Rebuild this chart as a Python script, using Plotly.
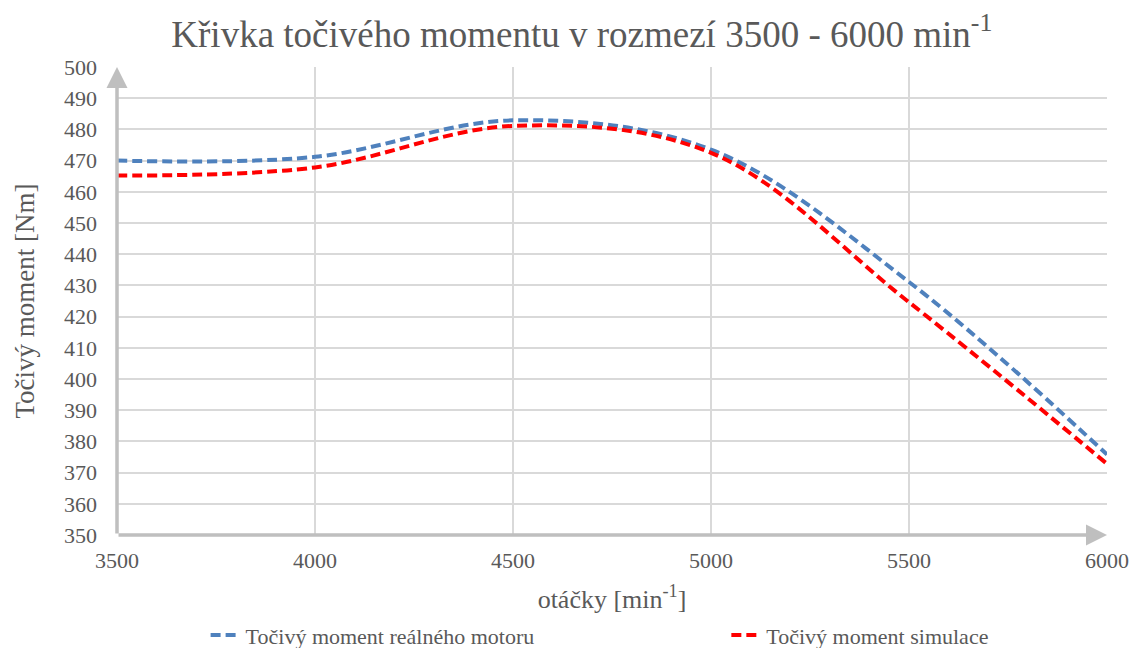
import plotly.graph_objects as go

rpm = [3500, 4000, 4500, 5000, 5500, 6000]
torque_real = [470.0, 471.2, 482.9, 473.5, 431.1, 375.8]
torque_sim = [465.2, 467.8, 481.1, 472.5, 424.6, 372.8]

name_real = "Točivý moment reálného motoru"
name_sim = "Točivý moment simulace"

FONT = "Liberation Serif"
TXT = "#595959"
GRID = "#D9D9D9"
AXC = "#BFBFBF"

fig = go.Figure()
fig.add_trace(go.Scatter(x=rpm, y=torque_real, name=name_real, mode="lines", legend="legend",
                         line=dict(color="#4F81BD", width=4, dash="10px,5px", shape="spline", smoothing=1.0)))
fig.add_trace(go.Scatter(x=rpm, y=torque_sim, name=name_sim, mode="lines", legend="legend2",
                         line=dict(color="#FF0000", width=4, dash="10px,5px", shape="spline", smoothing=1.0)))

# axis arrows
for (x, y) in [(3500, 500), (6000, 350)]:
    fig.add_annotation(x=x, y=y, ax=3500, ay=350, xref="x", yref="y", axref="x", ayref="y",
                       text="", showarrow=True, arrowhead=2, arrowsize=1.2, arrowwidth=3.5,
                       arrowcolor=AXC, standoff=0)

legend_common = dict(orientation="h", yanchor="middle", y=-0.214, xanchor="left",
                     font=dict(family=FONT, size=22, color=TXT), bgcolor="rgba(0,0,0,0)")

fig.update_layout(
    width=1132, height=648,
    paper_bgcolor="white", plot_bgcolor="white",
    margin=dict(l=117, r=25, t=67, b=113, autoexpand=False),
    font=dict(family=FONT, color=TXT, size=22),
    title=dict(text="Křivka točivého momentu v rozmezí 3500 - 6000 min<sup>-1</sup>",
               x=0.514, xanchor="center", y=0.948, yanchor="middle",
               font=dict(family=FONT, size=37, color=TXT)),
    xaxis=dict(range=[3500, 6000], tickvals=rpm, showgrid=True, gridcolor=GRID, gridwidth=2,
               zeroline=False, showline=False, ticks="", tickfont=dict(family=FONT, size=22, color=TXT),
               ticklabelstandoff=10,
               title=dict(text="otáčky [min<sup>-1</sup>]", font=dict(family=FONT, size=26, color=TXT), standoff=17)),
    yaxis=dict(range=[350, 500], dtick=10, showgrid=True, gridcolor=GRID, gridwidth=2,
               zeroline=False, showline=False, ticks="", tickfont=dict(family=FONT, size=22, color=TXT),
               ticklabelstandoff=19,
               title=dict(text="Točivý moment [Nm]", font=dict(family=FONT, size=27, color=TXT), standoff=21)),
    legend=dict(x=0.0895, **legend_common),
    legend2=dict(x=0.6155, **legend_common),
    showlegend=True,
)

fig.write_html("out.html", config={"displayModeBar": False},
               post_script="document.body.style.margin='0';document.body.style.padding='0';")
